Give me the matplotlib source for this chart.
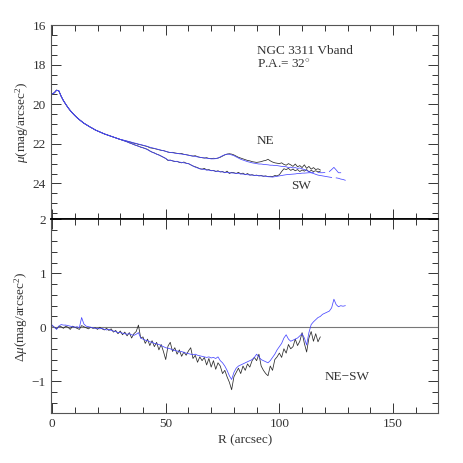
import numpy as np
import matplotlib
matplotlib.use("Agg")
import matplotlib.pyplot as plt
from matplotlib.ticker import MultipleLocator

plt.rcParams['font.family'] = ['Liberation Serif', 'DejaVu Serif']
plt.rcParams['mathtext.fontset'] = 'custom'
plt.rcParams['mathtext.rm'] = 'Liberation Serif'
plt.rcParams['mathtext.it'] = 'Liberation Serif:italic'

# ---------------- data ----------------
mu_core = [19.49, 19.42, 19.29, 19.33, 19.6, 19.82, 20.0, 20.17, 20.32, 20.45,
           20.57, 20.68, 20.78, 20.87, 20.96, 21.03, 21.1, 21.17, 21.23, 21.3,
           21.35, 21.4, 21.45, 21.5, 21.54, 21.58, 21.62, 21.66, 21.7, 21.74, 21.78]

ne_black_outer = [21.81, 21.84, 21.87, 21.9, 21.93, 21.97, 21.99, 22.03, 22.05, 22.08,
                  22.11, 22.14, 22.2, 22.22, 22.24, 22.27, 22.3, 22.33, 22.34, 22.38,
                  22.42, 22.44, 22.43, 22.46, 22.48, 22.5, 22.49, 22.53, 22.55, 22.57,
                  22.6, 22.62, 22.6, 22.65, 22.68, 22.7, 22.72, 22.7, 22.74, 22.75,
                  22.73, 22.74, 22.72, 22.68, 22.62, 22.56, 22.52, 22.5, 22.52, 22.56,
                  22.62, 22.68, 22.72, 22.76, 22.8, 22.84, 22.86, 22.9, 22.92, 22.94,
                  22.92, 22.9, 22.86, 22.84, 22.78, 22.86, 22.92, 22.96, 22.98, 23.0,
                  22.96, 23.04, 23.08, 23.0, 23.06, 23.14, 23.02, 23.16, 23.1, 23.2,
                  23.06, 23.24, 23.14, 23.28, 23.2, 23.3, 23.26, 23.32]

sw_black_outer = [21.82, 21.86, 21.9, 21.95, 21.99, 22.04, 22.08, 22.12, 22.17, 22.2,
                  22.24, 22.28, 22.36, 22.42, 22.46, 22.52, 22.56, 22.62, 22.68, 22.74,
                  22.84, 22.82, 22.86, 22.9, 22.88, 22.94, 22.96, 22.92, 22.98, 23.0,
                  23.06, 23.12, 23.16, 23.2, 23.26, 23.28, 23.24, 23.32, 23.3, 23.36,
                  23.34, 23.4, 23.36, 23.42, 23.4, 23.46, 23.38, 23.5, 23.44, 23.46,
                  23.5, 23.44, 23.52, 23.48, 23.56, 23.5, 23.58, 23.56, 23.6, 23.58,
                  23.62, 23.6, 23.64, 23.62, 23.66, 23.64, 23.66, 23.6, 23.62, 23.56,
                  23.4, 23.26, 23.3, 23.24, 23.34, 23.28, 23.36, 23.3, 23.4, 23.32,
                  23.38, 23.3, 23.42, 23.34, 23.4, 23.36, 23.42, 23.38]

ne_blue_outer = [21.8, 21.83, 21.86, 21.89, 21.92, 21.95, 21.98, 22.01, 22.04, 22.07,
                 22.1, 22.13, 22.17, 22.2, 22.23, 22.26, 22.29, 22.32, 22.35, 22.38,
                 22.41, 22.44, 22.45, 22.47, 22.49, 22.5, 22.52, 22.54, 22.55, 22.58,
                 22.6, 22.62, 22.64, 22.66, 22.68, 22.7, 22.71, 22.73, 22.74, 22.76,
                 22.76, 22.75, 22.72, 22.66, 22.6, 22.55, 22.52, 22.53, 22.56, 22.6,
                 22.66, 22.72, 22.78, 22.82, 22.86, 22.9, 22.93, 22.96, 22.98, 23.0,
                 23.02, 23.02, 23.04, 23.05, 23.06, 23.08, 23.08, 23.1, 23.1, 23.12,
                 23.14, 23.14, 23.16, 23.2, 23.18, 23.22, 23.2, 23.24, 23.22, 23.26,
                 23.3, 23.34, 23.4, 23.46, 23.5, 23.54, 23.58, 23.6, 23.62, 23.64,
                 23.66, 23.68, 23.7, np.nan, 23.72, 23.74, 23.78, 23.8, 23.84]

sw_blue_outer = [21.82, 21.86, 21.9, 21.95, 21.99, 22.04, 22.08, 22.12, 22.16, 22.2,
                 22.24, 22.3, 22.36, 22.42, 22.47, 22.52, 22.57, 22.62, 22.68, 22.74,
                 22.82, 22.84, 22.86, 22.88, 22.9, 22.92, 22.94, 22.96, 22.98, 23.0,
                 23.06, 23.12, 23.18, 23.22, 23.26, 23.28, 23.3, 23.32, 23.33, 23.35,
                 23.36, 23.38, 23.4, 23.41, 23.42, 23.44, 23.45, 23.46, 23.47, 23.48,
                 23.49, 23.5, 23.52, 23.53, 23.54, 23.56, 23.57, 23.58, 23.59, 23.6,
                 23.61, 23.62, 23.63, 23.64, 23.66, 23.67, 23.68, 23.66, 23.64, 23.62,
                 23.6, 23.58, 23.56, 23.55, 23.54, 23.53, 23.52, 23.5, 23.5, 23.48,
                 23.48, 23.47, 23.46, 23.46, 23.45, np.nan, 23.45, 23.46, 23.46, 23.45,
                 np.nan, 23.4, 23.3, 23.19, 23.32, 23.46, 23.46, np.nan, 23.46]

dmu_black = [0.03, 0.0, -0.03, 0.02, 0.01, -0.02, 0.02, 0.0, -0.04, 0.02,
             0.0, -0.02, -0.04, 0.03, 0.01, -0.01, -0.03, 0.0, -0.02, -0.01,
             -0.04, 0.0, -0.03, -0.05, -0.02, -0.06, -0.03, -0.09, -0.06, -0.12,
             -0.07, -0.14, -0.09, -0.16, -0.1, -0.2, -0.12, -0.08, 0.04, -0.2,
             -0.18, -0.3, -0.22, -0.34, -0.25, -0.36, -0.28, -0.42, -0.32, -0.45,
             -0.6, -0.35, -0.28, -0.45, -0.38, -0.5, -0.42, -0.54, -0.46, -0.52,
             -0.44, -0.38, -0.58, -0.52, -0.65, -0.55, -0.62, -0.56, -0.7, -0.58,
             -0.74, -0.62, -0.78, -0.66, -0.72, -0.86, -0.8, -0.92, -1.02, -1.16,
             -0.92, -0.84, -0.76, -0.86, -0.72, -0.8, -0.68, -0.74, -0.62, -0.56,
             -0.62, -0.5, -0.72, -0.8, -0.86, -0.9, -0.72, -0.8, -0.6, -0.55,
             -0.48, -0.56, -0.4, -0.48, -0.32, -0.4, -0.36, -0.22, -0.34, -0.26,
             -0.1, -0.3, -0.46, -0.2, -0.08, -0.26, -0.12, -0.27, -0.18]

dmu_blue = [0.04, 0.0, -0.04, 0.02, 0.05, 0.04, 0.04, 0.03, 0.02, 0.01,
            0.0, 0.01, -0.01, 0.18, 0.06, 0.02, 0.01, 0.0, -0.01, -0.02,
            -0.02, -0.03, -0.02, -0.04, -0.05, -0.04, -0.06, -0.07, -0.08, -0.1,
            -0.1, -0.11, -0.12, -0.13, -0.12, -0.14, -0.15, -0.13, -0.1, -0.2,
            -0.22, -0.24, -0.25, -0.27, -0.28, -0.3, -0.31, -0.32, -0.34, -0.36,
            -0.38, -0.39, -0.4, -0.42, -0.43, -0.44, -0.46, -0.45, -0.47, -0.48,
            -0.49, -0.5, -0.51, -0.5, -0.52, -0.53, -0.54, -0.55, -0.56, -0.55,
            -0.57, -0.56, -0.58, -0.55, -0.62, -0.66, -0.72, -0.8, -0.9, -0.97,
            -0.84, -0.76, -0.72, -0.7, -0.68, -0.66, -0.64, -0.62, -0.6, -0.56,
            -0.5, -0.55, -0.6, -0.62, -0.64, -0.66, -0.62, -0.56, -0.5, -0.42,
            -0.36, -0.3, -0.2, -0.14, -0.22, -0.26, -0.24, -0.22, -0.2, -0.16,
            -0.12, -0.2, -0.33, -0.1, 0.05, 0.1, 0.14, 0.18, 0.2, 0.24,
            0.26, 0.28, 0.3, 0.36, 0.52, 0.42, 0.38, 0.4, 0.39, 0.4]

mu_ne_black = mu_core + ne_black_outer
mu_sw_black = mu_core + sw_black_outer
mu_ne_blue = mu_core + ne_blue_outer
mu_sw_blue = mu_core + sw_blue_outer
r_black = np.arange(len(mu_ne_black))
r_blue = np.arange(len(mu_ne_blue))
r_dblack = np.arange(len(dmu_black))
r_dblue = np.arange(len(dmu_blue))

BLACK = '#2a2a2a'
BLUE = '#4848ff'
LW = 0.55
TXT = '#333333'

fig = plt.figure(figsize=(4.63, 4.63), dpi=100)
ax1 = fig.add_axes([0.110, 0.526, 0.837, 0.420])
ax2 = fig.add_axes([0.110, 0.107, 0.837, 0.419])

ax1.plot(r_black, mu_ne_black, color=BLACK, lw=LW)
ax1.plot(r_black, mu_sw_black, color=BLACK, lw=LW)
ax1.plot(r_blue, mu_ne_blue, color=BLUE, lw=LW)
ax1.plot(r_blue, mu_sw_blue, color=BLUE, lw=LW)

ax2.axhline(0, color='#777777', lw=0.8)
ax2.plot(r_dblack, dmu_black, color=BLACK, lw=LW)
ax2.plot(r_dblue, dmu_blue, color=BLUE, lw=LW)

for ax in (ax1, ax2):
    ax.set_xlim(-0.5, 170)
    ax.xaxis.set_major_locator(MultipleLocator(50))
    ax.xaxis.set_minor_locator(MultipleLocator(10))
    ax.tick_params(which='both', direction='in', top=True, right=True,
                   labelsize=9.5, colors=TXT, width=0.7)
    ax.tick_params(which='major', length=7)
    ax.tick_params(which='minor', length=4)
    for s in ax.spines.values():
        s.set_color('#555555')
        s.set_linewidth(0.8)

ax1.set_ylim(25.82, 16)
ax1.yaxis.set_major_locator(MultipleLocator(2))
ax1.yaxis.set_minor_locator(MultipleLocator(0.5))
ax1.tick_params(labelbottom=False)
ax1.spines['bottom'].set_color('black')
ax1.spines['bottom'].set_linewidth(1.2)

ax2.set_ylim(-1.6, 2.0)
ax2.yaxis.set_major_locator(MultipleLocator(1))
ax2.yaxis.set_minor_locator(MultipleLocator(0.2))
ax2.spines['top'].set_color('black')
ax2.spines['top'].set_linewidth(1.2)

ax1.set_ylabel(r'$\mu$(mag/arcsec$^2$)', fontsize=9.5, color=TXT, labelpad=1)
ax2.set_ylabel(r'$\Delta\mu$(mag/arcsec$^2$)', fontsize=9.5, color=TXT, labelpad=1)
ax2.set_xlabel('R (arcsec)', fontsize=9.5, color=TXT, labelpad=3)

ax1.text(90, 17.3, 'NGC 3311 Vband', fontsize=9.5, color=TXT, va='center')
ax1.text(90, 18.0, 'P.A.= 32$^{\\circ}$', fontsize=9.5, color=TXT, va='center')
ax1.text(90, 21.85, 'NE', fontsize=9.5, color=TXT, va='center')
ax1.text(105, 24.15, 'SW', fontsize=9.5, color=TXT, va='center')
ax2.text(120, -0.93, 'NE\u2212SW', fontsize=9.5, color=TXT, va='center')

fig.savefig('out.png', dpi=100)
